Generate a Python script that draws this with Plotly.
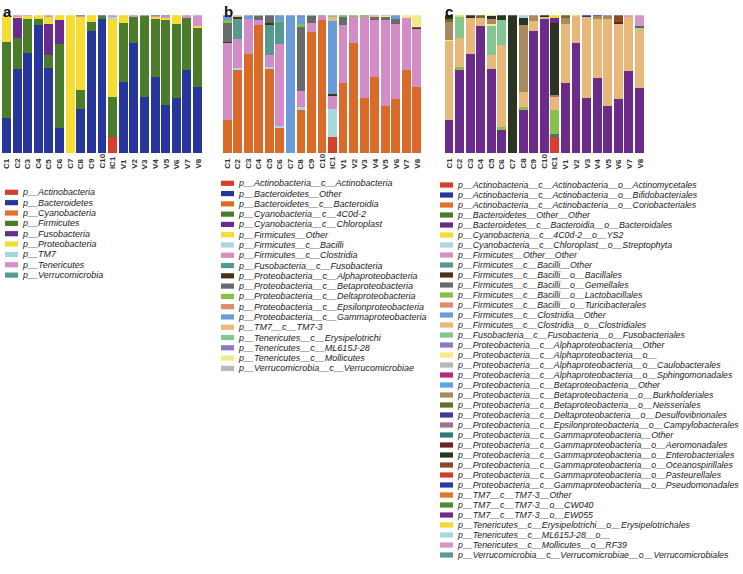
import plotly.graph_objects as go

samples = ["C1", "C2", "C3", "C4", "C5", "C6", "C7", "C8", "C9", "C10",
           "IC1", "V1", "V2", "V3", "V4", "V5", "V6", "V7", "V8"]

# ---------------- panel a : phylum ----------------
phylum_names = [
    "p__Actinobacteria", "p__Bacteroidetes", "p__Cyanobacteria", "p__Firmicutes",
    "p__Fusobacteria", "p__Proteobacteria", "p__TM7", "p__Tenericutes", "p__Verrucomicrobia"]
phylum_colors = ["#d6402a", "#27369a", "#e2712a", "#4b7c2c", "#6a2b8e",
                 "#f5dc32", "#a9d7e0", "#d491c8", "#5a9a90"]
phylum_values = [
    [0.5, 0, 0, 0, 0.5, 0, 0, 0, 0, 0, 11.5, 0, 0, 0, 0, 0, 0, 0, 0],
    [25.0, 60.7, 72.3, 92.8, 61.4, 18.1, 0, 31.8, 88.4, 97.0, 0, 51.8, 80.2, 40.5, 54.9, 35.0, 39.8, 60.2, 47.7],
    [0] * 19,
    [55.2, 22.9, 24.8, 4.3, 9.6, 61.4, 0, 14.0, 6.7, 3.0, 29.5, 42.7, 18.6, 59.0, 41.9, 61.9, 53.7, 38.0, 43.1],
    [0, 14.7, 0, 0, 21.9, 16.9, 0, 0, 0, 0, 0, 0, 0, 0, 0, 0, 0, 0, 0],
    [18.5, 0.5, 2.2, 2.4, 5.3, 3.6, 100, 53.0, 4.8, 0, 56.0, 5.5, 0, 0, 1.4, 1.4, 6.5, 0, 1.2],
    [0, 0, 0, 0, 0, 0, 0, 0, 0, 0, 2.0, 0, 0, 0, 0, 0, 0, 0, 0],
    [0.5, 1.0, 0.5, 0, 1.2, 0, 0, 0.8, 0, 0, 1.0, 0, 1.2, 0, 1.0, 1.0, 0, 1.8, 8.0],
    [0, 0, 0, 0, 0, 0, 0, 0.4, 0, 0, 0, 0, 0, 0.5, 0.4, 0.7, 0, 0, 0],
]

# ---------------- panel b : class ----------------
class_names = [
    "p__Actinobacteria__c__Actinobacteria", "p__Bacteroidetes__Other",
    "p__Bacteroidetes__c__Bacteroidia", "p__Cyanobacteria__c__4C0d-2",
    "p__Cyanobacteria__c__Chloroplast", "p__Firmicutes__Other",
    "p__Firmicutes__c__Bacilli", "p__Firmicutes__c__Clostridia",
    "p__Fusobacteria__c__Fusobacteria", "p__Proteobacteria__c__Alphaproteobacteria",
    "p__Proteobacteria__c__Betaproteobacteria", "p__Proteobacteria__c__Deltaproteobacteria",
    "p__Proteobacteria__c__Epsilonproteobacteria", "p__Proteobacteria__c__Gammaproteobacteria",
    "p__TM7__c__TM7-3", "p__Tenericutes__c__Erysipelotrichi",
    "p__Tenericutes__c__ML615J-28", "p__Tenericutes__c__Mollicutes",
    "p__Verrucomicrobia__c__Verrucomicrobiae"]
class_colors = ["#d6402a", "#27369a", "#da6a28", "#4b7c2c", "#6a2b8e", "#f5dc32",
                "#a9d7e0", "#d38cc6", "#559a8e", "#4a3218", "#686b6e", "#86c24a",
                "#e08a6c", "#6b9cd9", "#e8b97c", "#84c591", "#8b7cc2", "#f3ea8a", "#b8b8b8"]
class_values = [
    [0, 0, 0, 0, 0.3, 0, 0, 0, 0, 0, 11.6, 0, 0, 0, 0, 0, 0, 0, 0],
    [0] * 19,
    [24.1, 60.2, 72.3, 92.8, 61.0, 18.1, 0, 31.3, 88.0, 96.9, 0, 51.0, 80.0, 40.2, 54.9, 34.5, 39.3, 60.2, 47.7],
    [0] * 19,
    [0] * 19,
    [0] * 19,
    [0, 1.9, 0, 0, 1.2, 1.7, 0, 2.4, 0, 0, 20.2, 0, 0, 0, 0, 0, 0, 0, 0],
    [55.9, 21.0, 25.3, 4.1, 8.9, 59.8, 0, 11.3, 6.7, 2.5, 9.6, 42.0, 18.8, 59.0, 41.9, 62.4, 54.2, 38.1, 42.7],
    [0, 14.5, 0, 0, 21.7, 15.7, 0, 0, 0, 0, 0, 0, 0, 0, 0, 0, 0, 0, 0],
    [0.7, 1.2, 0, 0, 1.9, 0, 0, 0, 0, 0, 1.2, 0, 0, 0, 0, 0, 0, 0, 0.6],
    [14.0, 0, 0, 2.4, 5.3, 0, 0, 47.0, 4.6, 0, 0, 5.3, 0, 0, 1.9, 1.9, 4.0, 0, 0.6],
    [1.7, 0, 0, 0, 0, 0.7, 0, 1.4, 0, 0, 0, 0.7, 1.2, 0.4, 0, 0, 0, 0, 0],
    [0] * 19,
    [3.6, 0, 2.4, 0.7, 0, 4.1, 100, 5.8, 0.7, 0.6, 52.5, 0, 0, 0.3, 0, 0, 2.4, 0, 0],
    [0, 1.2, 0, 0, 0, 0, 0, 0, 0, 0, 2.4, 0, 0, 0, 0.5, 0, 0, 0, 0],
    [0, 0, 0, 0, 0, 0, 0, 0, 0, 0, 1.5, 0.7, 0, 0.3, 0, 0, 0, 0, 0],
    [0, 0, 0, 0, 0, 0, 0, 0.8, 0, 0, 0, 0, 0, 0, 0, 0, 0, 0, 0],
    [0, 0, 0, 0, 0, 0, 0, 0, 0, 0, 0, 0, 0, 0, 0.3, 0.5, 0, 1.7, 8.4],
    [0, 0, 0, 0, 0, 0, 0, 0, 0, 0, 0, 0, 0, 0, 0.4, 0.7, 0, 0, 0],
]

# ---------------- panel c : order ----------------
order_names = [
    "p__Actinobacteria__c__Actinobacteria__o__Actinomycetales",
    "p__Actinobacteria__c__Actinobacteria__o__Bifidobacteriales",
    "p__Actinobacteria__c__Actinobacteria__o__Coriobacteriales",
    "p__Bacteroidetes__Other__Other",
    "p__Bacteroidetes__c__Bacteroidia__o__Bacteroidales",
    "p__Cyanobacteria__c__4C0d-2__o__YS2",
    "p__Cyanobacteria__c__Chloroplast__o__Streptophyta",
    "p__Firmicutes__Other__Other",
    "p__Firmicutes__c__Bacilli__Other",
    "p__Firmicutes__c__Bacilli__o__Bacillales",
    "p__Firmicutes__c__Bacilli__o__Gemellales",
    "p__Firmicutes__c__Bacilli__o__Lactobacillales",
    "p__Firmicutes__c__Bacilli__o__Turicibacterales",
    "p__Firmicutes__c__Clostridia__Other",
    "p__Firmicutes__c__Clostridia__o__Clostridiales",
    "p__Fusobacteria__c__Fusobacteria__o__Fusobacteriales",
    "p__Proteobacteria__c__Alphaproteobacteria__Other",
    "p__Proteobacteria__c__Alphaproteobacteria__o__",
    "p__Proteobacteria__c__Alphaproteobacteria__o__Caulobacterales",
    "p__Proteobacteria__c__Alphaproteobacteria__o__Sphingomonadales",
    "p__Proteobacteria__c__Betaproteobacteria__Other",
    "p__Proteobacteria__c__Betaproteobacteria__o__Burkholderiales",
    "p__Proteobacteria__c__Betaproteobacteria__o__Neisseriales",
    "p__Proteobacteria__c__Deltaproteobacteria__o__Desulfovibrionales",
    "p__Proteobacteria__c__Epsilonproteobacteria__o__Campylobacterales",
    "p__Proteobacteria__c__Gammaproteobacteria__Other",
    "p__Proteobacteria__c__Gammaproteobacteria__o__Aeromonadales",
    "p__Proteobacteria__c__Gammaproteobacteria__o__Enterobacteriales",
    "p__Proteobacteria__c__Gammaproteobacteria__o__Oceanospirillales",
    "p__Proteobacteria__c__Gammaproteobacteria__o__Pasteurellales",
    "p__Proteobacteria__c__Gammaproteobacteria__o__Pseudomonadales",
    "p__TM7__c__TM7-3__Other",
    "p__TM7__c__TM7-3__o__CW040",
    "p__TM7__c__TM7-3__o__EW055",
    "p__Tenericutes__c__Erysipelotrichi__o__Erysipelotrichales",
    "p__Tenericutes__c__ML615J-28__o__",
    "p__Tenericutes__c__Mollicutes__o__RF39",
    "p__Verrucomicrobia__c__Verrucomicrobiae__o__Verrucomicrobiales"]
order_colors = [
    "#d6402a", "#27369a", "#e2712a", "#4b7c2c", "#6a2b8a", "#f5dc32", "#a9d7e0",
    "#d491c8", "#559a8e", "#4a3218", "#686b6e", "#86c24a", "#e08a6c", "#6b9cd9",
    "#e8b87a", "#84c591", "#8b7cc2", "#f3ea8a", "#b8b8b8", "#b22a7f", "#5aa5e2",
    "#a88a60", "#6d6b2a", "#3e3a96", "#a07290", "#2f7c76", "#6a2420", "#2b3322",
    "#8c4a24", "#d63c28", "#2a3aa0", "#e07428", "#4d8a34", "#6a2b8c", "#f1d82c",
    "#a8d8e2", "#d596c8", "#5a9a8e"]
order_values = [
    [0.3, 0, 0, 0, 0.3, 0, 0, 0, 0, 0, 11.4, 0, 0, 0, 0, 0, 0, 0, 0],
    [0] * 19,
    [0] * 19,
    [0] * 19,
    [24.0, 60.0, 72.0, 92.5, 61.7, 17.2, 0, 31.3, 87.9, 97.5, 0, 50.7, 79.9, 39.8, 54.4, 34.2, 39.0, 60.0, 47.1],
    [0] * 19,
    [0] * 19,
    [0] * 19,
    [0] * 19,
    [0] * 19,
    [0, 0, 0, 0, 0, 0, 0, 0, 0, 0, 2.9, 0, 0, 0, 0, 0, 0, 0, 0],
    [0, 1.7, 0, 0, 0, 1.9, 0, 2.4, 0, 0, 17.0, 0, 0, 0, 0, 0, 0, 0, 0],
    [0] * 19,
    [0] * 19,
    [57.0, 21.0, 26.0, 5.6, 9.7, 59.5, 0, 10.9, 7.0, 1.5, 9.2, 43.2, 19.4, 59.0, 43.2, 63.3, 54.1, 38.8, 43.2],
    [0, 15.3, 0, 0, 21.8, 17.7, 0, 0, 0, 0, 0, 0, 0, 0, 0, 0, 0, 0, 0],
    [0] * 19,
    [0.5, 0, 0, 0, 0.7, 0, 0, 0, 0, 0, 0, 0, 0, 0, 0, 0, 0, 0, 0],
    [0] * 19,
    [0] * 19,
    [0] * 19,
    [13.1, 0, 0, 0, 4.0, 0, 0, 48.5, 4.4, 0, 0, 4.1, 0, 0, 1.7, 2.4, 0, 0, 0],
    [2.7, 0, 0, 1.9, 0, 0, 0, 0, 0, 0, 0, 1.9, 0, 0, 0, 0, 0, 0, 0],
    [0] * 19,
    [0, 0, 0, 0, 0, 0, 0, 0, 0, 0, 1.7, 0, 0, 0, 0, 0, 0, 0, 0],
    [0, 0, 0, 0, 0, 0, 0, 0, 0, 0, 0, 0, 0, 0, 0, 0, 0, 0, 1.2],
    [0, 0, 0, 0, 0, 0, 0, 0, 0, 0, 0, 0, 0, 0, 0, 0, 1.5, 0, 0],
    [2.4, 0, 1.9, 0, 2.0, 3.6, 100, 4.9, 0, 1.0, 52.0, 0, 0, 0, 0, 0, 0, 0, 0],
    [0, 0, 0, 0, 0, 0, 0, 0, 0, 0, 0, 0, 0, 0, 0, 0, 4.9, 0, 0],
    [0] * 19,
    [0, 0, 0, 0, 0, 0, 0, 0, 0, 0, 0, 0, 0, 1.2, 0.7, 0, 0, 0, 0],
    [0] * 19,
    [0] * 19,
    [0, 0, 0, 0, 0, 0, 0, 0, 0, 0, 3.6, 0, 0, 0, 0, 0, 0, 0, 0],
    [0, 1.2, 0, 0, 0.7, 0, 0, 0, 0, 0, 1.9, 0, 0.7, 0, 0, 0, 0, 0, 0],
    [0, 0, 0, 0, 0, 0, 0, 1.9, 0, 0, 0, 0, 0, 0, 0, 0, 0, 0, 0],
    [0, 0, 0, 0, 0, 0, 0, 0, 0, 0, 0, 0, 0, 0, 0, 0, 0, 1.2, 8.0],
    [0, 0, 0, 0, 0, 0, 0, 0, 0, 0, 0, 0, 0, 0, 0, 0.5, 0, 0, 0],
]

panel_letters = ["a", "b", "c"]

# ---------------- layout geometry (pixels) ----------------
W, H = 743, 574
FONT = "Liberation Sans, Arial, sans-serif"
bar_top, bar_bottom = 15.3, 153.3
panels = [
    # axis suffix, x-domain px, names, colors, values, swatch x, legend first row y, row step, font size
    ("", (0.0, 204.0), phylum_names, phylum_colors, phylum_values, 5, 192.3, 10.35, 9),
    ("2", (220.8, 423.2), class_names, class_colors, class_values, 221, 183.3, 10.28, 9),
    ("3", (442.5, 646.0), order_names, order_colors, order_values, 440, 185.0, 10.0, 8.8),
]

fig = go.Figure()
annotations = []
shapes = []

for k, (sfx, (dx0, dx1), names, colors, values, sw_x, ly0, lstep, fsz) in enumerate(panels):
    xa, ya = "x" + sfx, "y" + sfx
    for name, col, vals in zip(names, colors, values):
        fig.add_trace(go.Bar(
            x=samples, y=vals, name=name, marker=dict(color=col, line=dict(width=0)),
            xaxis=xa, yaxis=ya, showlegend=False,
            hovertemplate=name + "<br>%{x}: %{y}<extra></extra>"))
    fig.layout["xaxis" + sfx] = dict(
        domain=[dx0 / W, dx1 / W], anchor=ya, showticklabels=False, showgrid=False,
        zeroline=False, showline=False, ticks="", type="category",
        categoryorder="array", categoryarray=samples)
    fig.layout["yaxis" + sfx] = dict(
        domain=[1 - bar_bottom / H, 1 - bar_top / H], anchor=xa, range=[0, 100],
        visible=False, showgrid=False, zeroline=False)
    # sample labels, rotated, bottom-aligned
    for s in samples:
        annotations.append(dict(
            x=s, xref=xa, y=1 - 171.0 / H, yref="paper", text=s, showarrow=False,
            textangle=-90, xanchor="center", yanchor="bottom",
            font=dict(family=FONT, size=8, color="#333333", weight="bold")))
    # panel letter
    annotations.append(dict(
        x=(dx0 + 1) / W, y=1 - 0.5 / H, xref="paper", yref="paper", text=panel_letters[k],
        showarrow=False, xanchor="left", yanchor="top",
        font=dict(family=FONT, size=15, color="#111111", weight="bold")))
    # legend
    for i, (name, col) in enumerate(zip(names, colors)):
        ry = ly0 + i * lstep
        shapes.append(dict(
            type="rect", xref="paper", yref="paper",
            x0=sw_x / W, x1=(sw_x + 13) / W, y0=1 - (ry + 2.6) / H, y1=1 - (ry - 2.6) / H,
            fillcolor=col, line=dict(width=0)))
        annotations.append(dict(
            x=(sw_x + 15) / W, y=1 - ry / H, xref="paper", yref="paper", text=name,
            showarrow=False, xanchor="left", yanchor="middle",
            font=dict(family=FONT, size=fsz, color="#222222", style="italic")))

fig.update_layout(
    width=W, height=H, margin=dict(l=0, r=0, t=0, b=0),
    barmode="stack", barnorm="percent", bargap=0.16,
    paper_bgcolor="white", plot_bgcolor="white",
    annotations=annotations, shapes=shapes, showlegend=False,
    font=dict(family=FONT))

fig.write_html("out.html", config={"displayModeBar": False},
               post_script="document.body.style.margin='0';")
